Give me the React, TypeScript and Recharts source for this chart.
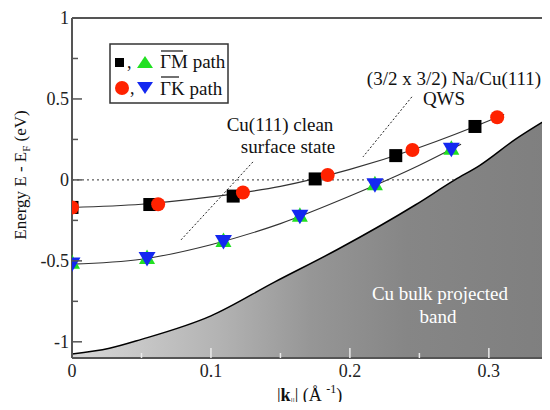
import { Area, ComposedChart, Line, ReferenceLine, Scatter, XAxis, YAxis } from "recharts"

const SERIF = "Liberation Serif, DejaVu Serif, serif"
const PLOT_LEFT = 72
const PLOT_BOTTOM = 358

// tick values
const xTicks = [0, 0.05, 0.1, 0.15, 0.2, 0.25, 0.3]
const yTicks = [-1, -0.75, -0.5, -0.25, 0, 0.25, 0.5, 0.75, 1]

// Cu bulk projected band edge
const bandEdge = [
  { k: 0, E: -1.075 },
  { k: 0.027, E: -1.04 },
  { k: 0.05, E: -0.985 },
  { k: 0.1, E: -0.84 },
  { k: 0.146, E: -0.63 },
  { k: 0.191, E: -0.43 },
  { k: 0.247, E: -0.155 },
  { k: 0.2755, E: 0 },
  { k: 0.2935, E: 0.09 },
  { k: 0.319, E: 0.25 },
  { k: 0.344, E: 0.385 },
]

// Fermi level (dotted)
const fermiLine = [
  { k: 0, E: 0 },
  { k: 0.2755, E: 0 },
]

// fitted dispersions
const upperFit = [
  { k: 0, E: -0.17 },
  { k: 0.05, E: -0.15 },
  { k: 0.1, E: -0.105 },
  { k: 0.15, E: -0.04 },
  { k: 0.2, E: 0.065 },
  { k: 0.25, E: 0.2 },
  { k: 0.3, E: 0.365 },
  { k: 0.311, E: 0.405 },
]
const lowerFit = [
  { k: 0, E: -0.52 },
  { k: 0.05, E: -0.49 },
  { k: 0.1, E: -0.4 },
  { k: 0.15, E: -0.27 },
  { k: 0.2, E: -0.1 },
  { k: 0.25, E: 0.09 },
  { k: 0.28, E: 0.22 },
]

// measured points
const gmSquares = [
  { k: 0, E: -0.17 },
  { k: 0.056, E: -0.152 },
  { k: 0.116, E: -0.1 },
  { k: 0.175, E: 0.006 },
  { k: 0.233, E: 0.15 },
  { k: 0.29, E: 0.33 },
]
const gkCircles = [
  { k: 0, E: -0.17 },
  { k: 0.062, E: -0.15 },
  { k: 0.123, E: -0.078 },
  { k: 0.184, E: 0.03 },
  { k: 0.245, E: 0.185 },
  { k: 0.306, E: 0.387 },
]
const gmTriangles = [
  { k: 0, E: -0.515 },
  { k: 0.054, E: -0.485 },
  { k: 0.109, E: -0.38 },
  { k: 0.164, E: -0.225 },
  { k: 0.218, E: -0.03 },
  { k: 0.273, E: 0.19 },
]
const gkTriangles = [
  { k: 0, E: -0.52 },
  { k: 0.054, E: -0.485 },
  { k: 0.109, E: -0.38 },
  { k: 0.164, E: -0.225 },
  { k: 0.218, E: -0.03 },
  { k: 0.273, E: 0.19 },
]

const Square = (p: any) => <rect x={p.cx - 6.5} y={p.cy - 6.5} width={13} height={13} fill="#000" />
const Circle = (p: any) => <circle cx={p.cx} cy={p.cy} r={7} fill="#ff2200" />
const TriUp = (p: any) => (
  <polygon points={`${p.cx},${p.cy - 9} ${p.cx - 8},${p.cy + 5.5} ${p.cx + 8},${p.cy + 5.5}`} fill="#22e022" />
)
const TriDown = (p: any) => (
  <polygon points={`${p.cx - 8.5},${p.cy - 6.5} ${p.cx + 8.5},${p.cy - 6.5} ${p.cx},${p.cy + 8}`} fill="#1428f0" />
)

const YTick = (props: any) => {
  const { y, payload } = props
  const v = payload.value
  const major = Math.abs(v * 2 - Math.round(v * 2)) < 1e-6
  return (
    <g>
      <line x1={PLOT_LEFT} x2={PLOT_LEFT + (major ? 10 : 6)} y1={y} y2={y} stroke="#555" strokeWidth={1.5} />
      {major && (
        <text x={PLOT_LEFT - 3} y={y + 6} textAnchor="end" style={{ fontFamily: SERIF, fontSize: 18 }} fill="#222">
          {String(v)}
        </text>
      )}
    </g>
  )
}

const XTick = (props: any) => {
  const { x, payload } = props
  const v = payload.value
  const major = Math.abs(v * 10 - Math.round(v * 10)) < 1e-6
  return (
    <g>
      {v !== 0 && (
        <line x1={x} x2={x} y1={PLOT_BOTTOM} y2={PLOT_BOTTOM - (major ? 10 : 5)} stroke="#eaeaea" strokeWidth={1.5} />
      )}
      {major && (
        <text x={x} y={PLOT_BOTTOM + 19} textAnchor="middle" style={{ fontFamily: SERIF, fontSize: 18 }} fill="#222">
          {String(v)}
        </text>
      )}
    </g>
  )
}

export default function App() {
  return (
    <div style={{ position: "relative", width: 550, height: 410, margin: -8, background: "#fff" }}>
      <ComposedChart width={550} height={410} margin={{ top: 18, right: 0, bottom: 0, left: 0 }}>
        <defs>
          <linearGradient id="bandFill" x1="0" y1="0" x2="1" y2="0">
            <stop offset="0" stopColor="#d8d8d8" />
            <stop offset="0.3" stopColor="#b4b4b4" />
            <stop offset="0.5" stopColor="#969696" />
            <stop offset="0.7" stopColor="#868686" />
            <stop offset="1" stopColor="#7f7f7f" />
          </linearGradient>
        </defs>
        <XAxis
          dataKey="k"
          type="number"
          domain={[0, 0.344]}
          allowDataOverflow
          ticks={xTicks}
          tick={<XTick />}
          tickLine={false}
          height={52}
          axisLine={{ stroke: "#555", strokeWidth: 2 }}
        />
        <YAxis
          dataKey="E"
          type="number"
          domain={[-1.1, 1]}
          allowDataOverflow
          ticks={yTicks}
          tick={<YTick />}
          tickLine={false}
          width={72}
          axisLine={{ stroke: "#555", strokeWidth: 2 }}
        />
        <Area
          data={bandEdge}
          dataKey="E"
          type="monotone"
          baseValue={-1.1}
          stroke="#000"
          strokeWidth={1.5}
          fill="url(#bandFill)"
          fillOpacity={1}
          isAnimationActive={false}
        />
        <ReferenceLine y={1} stroke="#555" strokeWidth={2} />
        <Line data={fermiLine} dataKey="E" stroke="#333" strokeWidth={1} strokeDasharray="2 3" dot={false} isAnimationActive={false} />
        <ReferenceLine segment={[{ x: 0.1302, y: 0.111 }, { x: 0.0784, y: -0.371 }]} stroke="#222" strokeDasharray="2 2" />
        <ReferenceLine segment={[{ x: 0.2446, y: 0.513 }, { x: 0.2094, y: 0.142 }]} stroke="#222" strokeDasharray="2 2" />
        <ReferenceLine segment={[{ x: 0.341, y: 0.494 }, { x: 0.3432, y: 0.519 }]} stroke="#222" strokeDasharray="2 2" />
        <Line data={upperFit} dataKey="E" type="monotone" stroke="#333" strokeWidth={1.1} dot={false} isAnimationActive={false} />
        <Line data={lowerFit} dataKey="E" type="monotone" stroke="#333" strokeWidth={1.1} dot={false} isAnimationActive={false} />
        <Scatter data={gmSquares} dataKey="E" shape={<Square />} isAnimationActive={false} />
        <Scatter data={gkCircles} dataKey="E" shape={<Circle />} isAnimationActive={false} />
        <Scatter data={gmTriangles} dataKey="E" shape={<TriUp />} isAnimationActive={false} />
        <Scatter data={gkTriangles} dataKey="E" shape={<TriDown />} isAnimationActive={false} />
      </ComposedChart>

      <svg
        width={550}
        height={410}
        style={{ position: "absolute", left: 0, top: 0, pointerEvents: "none", whiteSpace: "pre", fontFamily: SERIF }}
        fill="#111"
      >
        {/* legend */}
        <rect x={110} y={44} width={118} height={59} fill="#fff" stroke="#333" strokeWidth={1.5} />
        <rect x={115} y={58} width={9} height={9} fill="#000" />
        <text x={127} y={68} fontSize={18}>,</text>
        <polygon points="145,56 137,68 153,68" fill="#22e022" />
        <text x={160} y={68} fontSize={19}>ΓM path</text>
        <line x1={161} x2={183} y1={51} y2={51} stroke="#111" strokeWidth={1.2} />
        <circle cx={122} cy={88} r={7} fill="#ff2200" />
        <text x={130} y={94} fontSize={18}>,</text>
        <polygon points="137,82 153,82 145,94" fill="#1428f0" />
        <text x={160} y={95} fontSize={19}>ΓK path</text>
        <line x1={161} x2={179} y1={77} y2={77} stroke="#111" strokeWidth={1.2} />

        {/* annotations */}
        <text x={280} y={131} textAnchor="middle" fontSize={19}>Cu(111) clean</text>
        <text x={288} y={153} textAnchor="middle" fontSize={19}>surface state</text>
        <text x={454} y={85} textAnchor="middle" fontSize={19}>(3/2 x 3/2) Na/Cu(111)</text>
        <text x={444} y={105} textAnchor="middle" fontSize={19}>QWS</text>
        <text x={440} y={300} textAnchor="middle" fontSize={19} fill="#fff">Cu bulk projected</text>
        <text x={438} y={323} textAnchor="middle" fontSize={19} fill="#fff">band</text>

        {/* axis titles */}
        <text x={26} y={175} textAnchor="middle" fontSize={17} transform="rotate(-90 26 175)">
          Energy E - E<tspan dy={4} fontSize={11}>F</tspan>
          <tspan dy={-4}>{"  (eV)"}</tspan>
        </text>
        <text x={277} y={401} fontSize={18}>
          |<tspan fontWeight="bold">k</tspan>
          <tspan dy={4} fontSize={10}>||</tspan>
          <tspan dy={-4}>{"|  (Å "}</tspan>
          <tspan dy={-8} fontSize={12}>-1</tspan>
          <tspan dy={8}>)</tspan>
        </text>
      </svg>
    </div>
  )
}
